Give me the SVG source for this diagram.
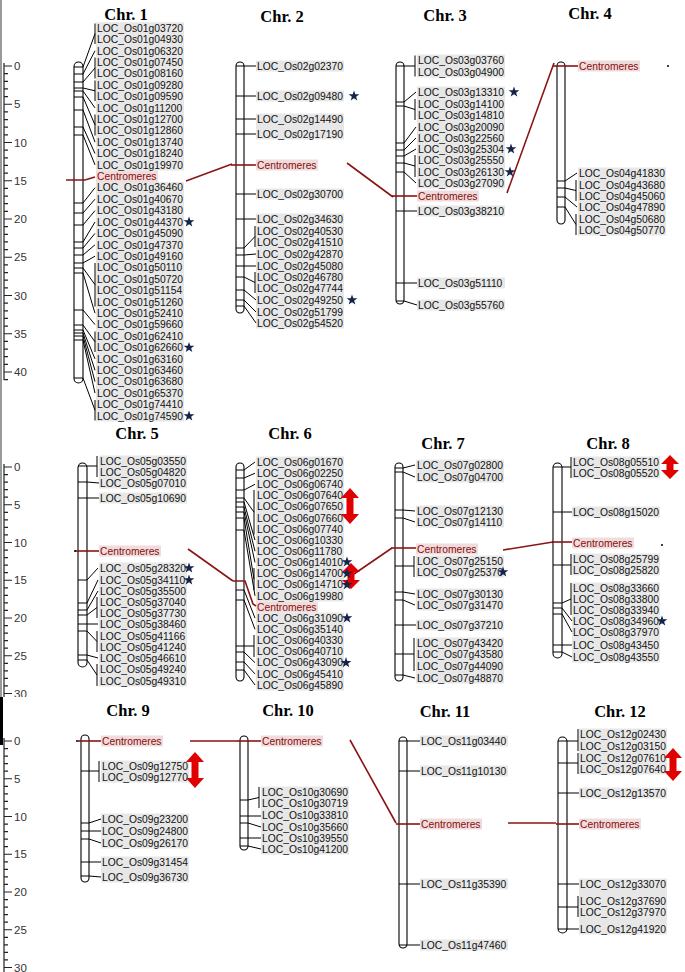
<svg xmlns="http://www.w3.org/2000/svg" width="685" height="972" viewBox="0 0 685 972">
<style>
.chr{fill:#fff;stroke:#000;stroke-width:1.1}
.ln{stroke:#000;stroke-width:1;fill:none}
.bg{fill:#e7e7e7}
.pk{fill:#efdcdc}
.cr{stroke:#8b1515;stroke-width:1.6;fill:none}
.lb text{font-family:"Liberation Sans",Arial,sans-serif;font-size:10.3px;fill:#111}
.lb text.ce{fill:#8b0d0d}
.lb text.ttl{font-family:"Liberation Serif","Times New Roman",serif;font-weight:bold;font-size:16.5px;text-anchor:middle;fill:#000}
.ax{stroke:#222;stroke-width:1.2;fill:none}
.axt{font-family:"Liberation Sans",Arial,sans-serif;font-size:11.5px;fill:#333}
.st{fill:#16244a}
.arw{fill:#e00000}
.dot{fill:#000}
</style>
<defs>
<path id="star" d="M0,-5.6L1.32,-1.81L5.33,-1.73L2.13,0.69L3.29,4.53L0,2.24L-3.29,4.53L-2.13,0.69L-5.33,-1.73L-1.32,-1.81Z"/>
<clipPath id="c2"><rect x="0" y="0" width="685" height="697"/></clipPath>
</defs>
<rect width="685" height="972" fill="#fff"/>
<path d="M1,0V697" stroke="#999" stroke-width="2"/>
<path d="M1.5,697V745" stroke="#000" stroke-width="3"/>

<g id="axis1">
<path class="ax" d="M4,63V380M4,66h8M4,73.65h4M4,81.3h4M4,88.95h4M4,96.6h4M4,104.25h8M4,111.9h4M4,119.55h4M4,127.2h4M4,134.85h4M4,142.5h8M4,150.15h4M4,157.8h4M4,165.45h4M4,173.1h4M4,180.75h8M4,188.4h4M4,196.05h4M4,203.7h4M4,211.35h4M4,219h8M4,226.65h4M4,234.3h4M4,241.95h4M4,249.6h4M4,257.25h8M4,264.9h4M4,272.55h4M4,280.2h4M4,287.85h4M4,295.5h8M4,303.15h4M4,310.8h4M4,318.45h4M4,326.1h4M4,333.75h8M4,341.4h4M4,349.05h4M4,356.7h4M4,364.35h4M4,372h8M4,379.65h4"/>
<text class="axt" x="14" y="70">0</text><text class="axt" x="14" y="108.25">5</text><text class="axt" x="14" y="146.5">10</text><text class="axt" x="14" y="184.75">15</text><text class="axt" x="14" y="223">20</text><text class="axt" x="14" y="261.25">25</text><text class="axt" x="14" y="299.5">30</text><text class="axt" x="14" y="337.75">35</text><text class="axt" x="14" y="376">40</text>
</g>
<g id="axis2" clip-path="url(#c2)">
<path class="ax" d="M4,464V697M4,467h8M4,474.55h4M4,482.1h4M4,489.65h4M4,497.2h4M4,504.75h8M4,512.3h4M4,519.85h4M4,527.4h4M4,534.95h4M4,542.5h8M4,550.05h4M4,557.6h4M4,565.15h4M4,572.7h4M4,580.25h8M4,587.8h4M4,595.35h4M4,602.9h4M4,610.45h4M4,618h8M4,625.55h4M4,633.1h4M4,640.65h4M4,648.2h4M4,655.75h8M4,663.3h4M4,670.85h4M4,678.4h4M4,685.95h4M4,693.5h8"/>
<text class="axt" x="14" y="471">0</text><text class="axt" x="14" y="508.75">5</text><text class="axt" x="14" y="546.5">10</text><text class="axt" x="14" y="584.25">15</text><text class="axt" x="14" y="622">20</text><text class="axt" x="14" y="659.75">25</text><text class="axt" x="14" y="697.5">30</text>
</g>
<g id="axis3">
<path class="ax" d="M4,738V972M4,741h8M4,748.55h4M4,756.1h4M4,763.65h4M4,771.2h4M4,778.75h8M4,786.3h4M4,793.85h4M4,801.4h4M4,808.95h4M4,816.5h8M4,824.05h4M4,831.6h4M4,839.15h4M4,846.7h4M4,854.25h8M4,861.8h4M4,869.35h4M4,876.9h4M4,884.45h4M4,892h8M4,899.55h4M4,907.1h4M4,914.65h4M4,922.2h4M4,929.75h8M4,937.3h4M4,944.85h4M4,952.4h4M4,959.95h4M4,967.5h8"/>
<text class="axt" x="14" y="745">0</text><text class="axt" x="14" y="782.75">5</text><text class="axt" x="14" y="820.5">10</text><text class="axt" x="14" y="858.25">15</text><text class="axt" x="14" y="896">20</text><text class="axt" x="14" y="933.75">25</text><text class="axt" x="14" y="971.5">30</text>
</g>

<g id="links">
<path class="cr" d="M186,181L232,164M347,163L393,197M507,193L554,63M188,549L233,581M354,574L392,548M503,550L553,542M190,741H236M350,740L396,823M508,823H556"/>
</g>

<g id="chr1" class="lb">
<text class="ttl" x="126" y="20">Chr. 1</text>
<path class="bg" d="M96,22.3h88v148.3h-88zM96,182h88v239.6h-88z"/>
<path class="pk" d="M96,170.6h62v11.4h-62z"/>
<rect class="chr" x="74" y="62" width="9" height="321" rx="4.5"/>
<path class="ln" d="M74,67h9M74,74h9M74,82h9M74,88h9M74,91h9M74,97h9M74,110h9M74,127h9M74,135h9M74,203h9M74,213h9M74,225h9M74,242h9M74,248h9M74,255h9M74,263h9M74,268h9M74,273h9M74,310h9M74,325h9M74,330h9M74,333h9M74,336h9M74,340h9M74,378h9M83,67L95,33.7M95,23.5V44M83,74L95,50.8M83,82L95,68M95,57.5V78.5M83,88L95,90.8M95,80.5V101M83,91L95,107.9M83,97L95,125M95,114.5V135.5M83,110L95,142.1M83,127L95,153.5M83,135L95,164.9M83,203L95,187.7M83,213L95,199.2M83,225L95,210.6M83,242L95,222M83,248L95,233.4M83,255L95,244.8M83,263L95,256.2M83,268L95,284.7M95,263V306.5M83,273L95,313.2M83,310L95,324.6M83,325L95,341.8M95,331.5V352M83,330L95,358.9M83,333L95,370.3M83,336L95,381.7M83,340L95,393.1M83,378L95,410.2M95,400V420.5"/>
<path class="cr" d="M66,180H85L95,177"/>
<text x="97" y="31.7">LOC_Os01g03720</text><text x="97" y="43.1">LOC_Os01g04930</text><text x="97" y="54.5">LOC_Os01g06320</text><text x="97" y="65.9">LOC_Os01g07450</text><text x="97" y="77.3">LOC_Os01g08160</text><text x="97" y="88.8">LOC_Os01g09280</text><text x="97" y="100.2">LOC_Os01g09590</text><text x="97" y="111.6">LOC_Os01g11200</text><text x="97" y="123">LOC_Os01g12700</text><text x="97" y="134.4">LOC_Os01g12860</text><text x="97" y="145.8">LOC_Os01g13740</text><text x="97" y="157.2">LOC_Os01g18240</text><text x="97" y="168.6">LOC_Os01g19970</text><text class="ce" x="97" y="180">Centromeres</text><text x="97" y="191.4">LOC_Os01g36460</text><text x="97" y="202.9">LOC_Os01g40670</text><text x="97" y="214.3">LOC_Os01g43180</text><text x="97" y="225.7">LOC_Os01g44370</text><text x="97" y="237.1">LOC_Os01g45090</text><text x="97" y="248.5">LOC_Os01g47370</text><text x="97" y="259.9">LOC_Os01g49160</text><text x="97" y="271.3">LOC_Os01g50110</text><text x="97" y="282.7">LOC_Os01g50720</text><text x="97" y="294.1">LOC_Os01g51154</text><text x="97" y="305.5">LOC_Os01g51260</text><text x="97" y="316.9">LOC_Os01g52410</text><text x="97" y="328.3">LOC_Os01g59660</text><text x="97" y="339.8">LOC_Os01g62410</text><text x="97" y="351.2">LOC_Os01g62660</text><text x="97" y="362.6">LOC_Os01g63160</text><text x="97" y="374">LOC_Os01g63460</text><text x="97" y="385.4">LOC_Os01g63680</text><text x="97" y="396.8">LOC_Os01g65370</text><text x="97" y="408.2">LOC_Os01g74410</text><text x="97" y="419.6">LOC_Os01g74590</text>
<use href="#star" class="st" x="189" y="222"/><use href="#star" class="st" x="189" y="347.5"/><use href="#star" class="st" x="189" y="416"/>
</g>

<g id="chr2" class="lb">
<text class="ttl" x="282" y="22">Chr. 2</text>
<path class="bg" d="M256,60.4h88v11.2h-88zM256,90.4h88v11.2h-88zM256,113.4h88v26.2h-88zM256,188.4h88v11.2h-88zM256,213.4h88v11.2h-88zM256,225.4h88v103.2h-88z"/>
<path class="pk" d="M256,159.4h62v11.2h-62z"/>
<rect class="chr" x="236" y="62" width="8" height="251" rx="4"/>
<path class="ln" d="M236,66h8M236,96h8M236,119h8M236,134h8M236,194h8M236,219h8M236,248h8M236,255h8M236,266h8M236,277h8M236,290h8M236,300h8M236,306h8M244,66H256M244,96H256M244,119H256M244,134H256M244,194H256M244,219H256M244,248L255,236.5M255,226V247M244,255L256,254M244,266H256M244,277L255,282.5M255,272V293M244,290L256,300M244,300L256,312M244,306L256,323"/>
<path class="cr" d="M231,165H256"/>
<text x="257" y="69.7">LOC_Os02g02370</text><text x="257" y="99.7">LOC_Os02g09480</text><text x="257" y="122.7">LOC_Os02g14490</text><text x="257" y="137.7">LOC_Os02g17190</text><text class="ce" x="257" y="168.7">Centromeres</text><text x="257" y="197.7">LOC_Os02g30700</text><text x="257" y="222.7">LOC_Os02g34630</text><text x="257" y="234.7">LOC_Os02g40530</text><text x="257" y="245.7">LOC_Os02g41510</text><text x="257" y="257.7">LOC_Os02g42870</text><text x="257" y="269.7">LOC_Os02g45080</text><text x="257" y="280.7">LOC_Os02g46780</text><text x="257" y="291.7">LOC_Os02g47744</text><text x="257" y="303.7">LOC_Os02g49250</text><text x="257" y="315.7">LOC_Os02g51799</text><text x="257" y="326.7">LOC_Os02g54520</text>
<use href="#star" class="st" x="354" y="96"/><use href="#star" class="st" x="352" y="300"/>
</g>

<g id="chr3" class="lb">
<text class="ttl" x="445" y="21">Chr. 3</text>
<path class="bg" d="M417,54.4h88v23.2h-88zM417,86.4h88v102.2h-88zM417,205.4h88v11.2h-88zM417,277.4h88v11.2h-88zM417,299.4h88v11.2h-88z"/>
<path class="pk" d="M417,190.4h62v11.2h-62z"/>
<rect class="chr" x="396" y="62" width="8" height="242" rx="4"/>
<path class="ln" d="M396,66h8M396,102h8M396,106h8M396,143h8M396,150h8M396,156h8M396,163h8M396,172h8M396,211h8M396,283h8M396,301h8M404,66H415M415,55.5V76.5M404,102L416,92M404,106L415,109.5M415,99V120M404,143L416,127M404,150L416,138M404,156L416,149M404,163L415,166M415,155V177M404,172L416,183M404,211H417M404,283H417M404,301L417,305"/>
<path class="cr" d="M392,196H417"/>
<text x="418" y="63.7">LOC_Os03g03760</text><text x="418" y="75.7">LOC_Os03g04900</text><text x="418" y="95.7">LOC_Os03g13310</text><text x="418" y="107.7">LOC_Os03g14100</text><text x="418" y="118.7">LOC_Os03g14810</text><text x="418" y="130.7">LOC_Os03g20090</text><text x="418" y="141.7">LOC_Os03g22560</text><text x="418" y="152.7">LOC_Os03g25304</text><text x="418" y="163.7">LOC_Os03g25550</text><text x="418" y="175.7">LOC_Os03g26130</text><text x="418" y="186.7">LOC_Os03g27090</text><text class="ce" x="418" y="199.7">Centromeres</text><text x="418" y="214.7">LOC_Os03g38210</text><text x="418" y="286.7">LOC_Os03g51110</text><text x="418" y="308.7">LOC_Os03g55760</text>
<use href="#star" class="st" x="514" y="92"/><use href="#star" class="st" x="511" y="149"/><use href="#star" class="st" x="510" y="172"/>
</g>

<g id="chr4" class="lb">
<text class="ttl" x="590" y="19">Chr. 4</text>
<path class="bg" d="M578,167.4h88v68.2h-88z"/>
<path class="pk" d="M578,60.4h62v11.2h-62z"/>
<rect class="chr" x="557" y="62" width="8" height="162" rx="4"/>
<path class="ln" d="M557,181h8M557,188h8M557,197h8M557,207h8M565,181L577,173M565,188L576,190.5M576,180V201M565,197L577,207M565,207L576,224.5M576,214V235"/>
<path class="cr" d="M553,66H578"/>
<circle class="dot" cx="668" cy="66" r="1"/>
<text class="ce" x="579" y="69.7">Centromeres</text><text x="579" y="176.7">LOC_Os04g41830</text><text x="579" y="188.7">LOC_Os04g43680</text><text x="579" y="199.7">LOC_Os04g45060</text><text x="579" y="210.7">LOC_Os04g47890</text><text x="579" y="222.7">LOC_Os04g50680</text><text x="579" y="233.7">LOC_Os04g50770</text>
</g>

<g id="chr5" class="lb">
<text class="ttl" x="137" y="439">Chr. 5</text>
<path class="bg" d="M99,455.4h88v33.2h-88zM99,492.4h88v11.2h-88zM99,562.4h88v124.2h-88z"/>
<path class="pk" d="M99,545.4h62v11.2h-62z"/>
<rect class="chr" x="78" y="463" width="9" height="204" rx="4.5"/>
<path class="ln" d="M78,466h9M78,482h9M78,498h9M78,580h9M78,603h9M78,610h9M78,615h9M78,624h9M78,631h9M78,655h9M78,660h9M87,466H97M97,456V477M87,482L99,483M87,498H99M87,580L98,568M87,603L98,580M87,610L98,591M87,615L97,607.5M97,597V618M87,624H98M87,631L97,641.5M97,631V652M87,655L98,658M87,660L97,675M97,664V686"/>
<path class="cr" d="M75,551H99"/>
<circle class="dot" cx="75" cy="551" r="1"/>
<text x="100" y="464.7">LOC_Os05g03550</text><text x="100" y="475.7">LOC_Os05g04820</text><text x="100" y="486.7">LOC_Os05g07010</text><text x="100" y="501.7">LOC_Os05g10690</text><text class="ce" x="100" y="554.7">Centromeres</text><text x="100" y="571.7">LOC_Os05g28320</text><text x="100" y="583.7">LOC_Os05g34110</text><text x="100" y="594.7">LOC_Os05g35500</text><text x="100" y="605.7">LOC_Os05g37040</text><text x="100" y="616.7">LOC_Os05g37730</text><text x="100" y="627.7">LOC_Os05g38460</text><text x="100" y="639.7">LOC_Os05g41166</text><text x="100" y="650.7">LOC_Os05g41240</text><text x="100" y="661.7">LOC_Os05g46610</text><text x="100" y="672.7">LOC_Os05g49240</text><text x="100" y="684.7">LOC_Os05g49310</text>
<use href="#star" class="st" x="189" y="568"/><use href="#star" class="st" x="189" y="580"/>
</g>

<g id="chr6" class="lb">
<text class="ttl" x="290" y="439">Chr. 6</text>
<path class="bg" d="M256,456.4h88v145h-88zM256,612.6h88v78h-88z"/>
<path class="pk" d="M256,601.4h62v11.2h-62z"/>
<rect class="chr" x="236" y="463" width="8" height="218" rx="4"/>
<path class="ln" d="M236,470h8M236,478h8M236,490h8M236,498h8M236,502h8M236,507h8M236,512h8M236,518h8M236,530h8M236,590h8M236,600h8M236,646h8M236,652h8M236,662h8M236,670h8M244,470L255,462M244,478L255,473.2M244,490L255,484.3M244,498L254,512.2M254,490V534.5M244,502L255,540.1M244,507L255,551.2M244,512L255,562.4M244,518L254,579.1M254,568V590M244,530L255,595.8M244,590L255,618.1M244,600L255,629.3M244,646H254M254,635V657M244,652L255,662.7M244,662L255,673.9M244,670L255,685"/>
<path class="cr" d="M233,581H245L253,604L256,606"/>
<text x="257" y="465.7">LOC_Os06g01670</text><text x="257" y="476.9">LOC_Os06g02250</text><text x="257" y="488">LOC_Os06g06740</text><text x="257" y="499.2">LOC_Os06g07640</text><text x="257" y="510.3">LOC_Os06g07650</text><text x="257" y="521.5">LOC_Os06g07660</text><text x="257" y="532.6">LOC_Os06g07740</text><text x="257" y="543.8">LOC_Os06g10330</text><text x="257" y="554.9">LOC_Os06g11780</text><text x="257" y="566.1">LOC_Os06g14010</text><text x="257" y="577.2">LOC_Os06g14700</text><text x="257" y="588.4">LOC_Os06g14710</text><text x="257" y="599.5">LOC_Os06g19980</text><text class="ce" x="257" y="610.7">Centromeres</text><text x="257" y="621.8">LOC_Os06g31090</text><text x="257" y="633">LOC_Os06g35140</text><text x="257" y="644.1">LOC_Os06g40330</text><text x="257" y="655.3">LOC_Os06g40710</text><text x="257" y="666.4">LOC_Os06g43090</text><text x="257" y="677.6">LOC_Os06g45410</text><text x="257" y="688.7">LOC_Os06g45890</text>
<polygon class="arw" points="350,488 359,498 353.5,498 353.5,514 359,514 350,524 341,514 346.5,514 346.5,498 341,498"/>
<polygon class="arw" points="351,563 360,572 354.5,572 354.5,580 360,580 351,589 342,580 347.5,580 347.5,572 342,572"/>
<use href="#star" class="st" x="347" y="562"/><use href="#star" class="st" x="347" y="573.5"/><use href="#star" class="st" x="347" y="584.7"/><use href="#star" class="st" x="347" y="618"/><use href="#star" class="st" x="346" y="662.7"/>
</g>

<g id="chr7" class="lb">
<text class="ttl" x="443" y="449">Chr. 7</text>
<path class="bg" d="M416,459.4h88v23.2h-88zM416,505.4h88v22.2h-88zM416,555.4h88v22.2h-88zM416,588.4h88v22.2h-88zM416,619.4h88v11.2h-88zM416,637.4h88v46.2h-88z"/>
<path class="pk" d="M416,543.4h62v11.2h-62z"/>
<rect class="chr" x="395" y="463" width="8" height="218" rx="4"/>
<path class="ln" d="M395,468h8M395,472h8M395,510h8M395,518h8M395,566h8M395,592h8M395,600h8M395,625h8M395,654h8M395,675h8M403,468L415,465M403,472L415,477M403,510L415,511M403,518L415,522M403,566H414M414,556V577M403,592L415,594M403,600L415,605M403,625H416M403,654H414M414,638V671M403,675L415,678"/>
<path class="cr" d="M391,548H416"/>
<text x="417" y="468.7">LOC_Os07g02800</text><text x="417" y="480.7">LOC_Os07g04700</text><text x="417" y="514.7">LOC_Os07g12130</text><text x="417" y="525.7">LOC_Os07g14110</text><text class="ce" x="417" y="552.7">Centromeres</text><text x="417" y="564.7">LOC_Os07g25150</text><text x="417" y="575.7">LOC_Os07g25370</text><text x="417" y="597.7">LOC_Os07g30130</text><text x="417" y="608.7">LOC_Os07g31470</text><text x="417" y="628.7">LOC_Os07g37210</text><text x="417" y="646.7">LOC_Os07g43420</text><text x="417" y="657.7">LOC_Os07g43580</text><text x="417" y="669.7">LOC_Os07g44090</text><text x="417" y="681.7">LOC_Os07g48870</text>
<use href="#star" class="st" x="503" y="572"/>
</g>

<g id="chr8" class="lb">
<text class="ttl" x="608" y="449">Chr. 8</text>
<path class="bg" d="M572,456.4h88v22.2h-88zM572,506.4h88v11.2h-88zM572,553.4h88v22.2h-88zM572,582.4h88v80.2h-88z"/>
<path class="pk" d="M572,537.4h62v11.2h-62z"/>
<rect class="chr" x="553" y="463" width="9" height="195" rx="4.5"/>
<path class="ln" d="M553,467h9M553,512h9M553,565h9M553,603h9M553,608h9M553,614h9M553,645h9M553,652h9M562,467H571M571,457V478M562,512H572M562,565H571M571,554V575M562,603L571,599M571,583V615M562,608L572,621M562,614L572,632M562,645H572M562,652L572,657"/>
<path class="cr" d="M553,542H572"/>
<circle class="dot" cx="662" cy="545" r="1"/>
<text x="573" y="465.7">LOC_Os08g05510</text><text x="573" y="476.7">LOC_Os08g05520</text><text x="573" y="515.7">LOC_Os08g15020</text><text class="ce" x="573" y="546.7">Centromeres</text><text x="573" y="562.7">LOC_Os08g25799</text><text x="573" y="573.7">LOC_Os08g25820</text><text x="573" y="591.7">LOC_Os08g33660</text><text x="573" y="602.7">LOC_Os08g33800</text><text x="573" y="613.7">LOC_Os08g33940</text><text x="573" y="624.7">LOC_Os08g34960</text><text x="573" y="635.7">LOC_Os08g37970</text><text x="573" y="648.7">LOC_Os08g43450</text><text x="573" y="660.7">LOC_Os08g43550</text>
<polygon class="arw" points="670,455 679,464 673.5,464 673.5,470 679,470 670,479 661,470 666.5,470 666.5,464 661,464"/>
<use href="#star" class="st" x="662" y="621"/>
</g>

<g id="chr9" class="lb">
<text class="ttl" x="128" y="716">Chr. 9</text>
<path class="bg" d="M101,760.4h88v22.2h-88zM101,813.4h88v35.2h-88zM101,856.4h88v26.2h-88z"/>
<path class="pk" d="M101,735.4h62v11.2h-62z"/>
<rect class="chr" x="81" y="735" width="8" height="147" rx="4"/>
<path class="ln" d="M81,771h8M81,823h8M81,831h8M81,839h8M81,862h8M81,876h8M89,771H99M99,761V782M89,823L101,819M89,831H101M89,839L101,843M89,862H101M89,876L101,877"/>
<path class="cr" d="M78,741H101"/>
<circle class="dot" cx="77" cy="741" r="1"/>
<text class="ce" x="102" y="744.7">Centromeres</text><text x="102" y="769.7">LOC_Os09g12750</text><text x="102" y="780.7">LOC_Os09g12770</text><text x="102" y="822.7">LOC_Os09g23200</text><text x="102" y="834.7">LOC_Os09g24800</text><text x="102" y="846.7">LOC_Os09g26170</text><text x="102" y="865.7">LOC_Os09g31454</text><text x="102" y="880.7">LOC_Os09g36730</text>
<polygon class="arw" points="195,752 204,762 198.5,762 198.5,778 204,778 195,788 186,778 191.5,778 191.5,762 186,762"/>
</g>

<g id="chr10" class="lb">
<text class="ttl" x="288" y="716">Chr. 10</text>
<path class="bg" d="M261,786.4h88v68.2h-88z"/>
<path class="pk" d="M261,735.4h62v11.2h-62z"/>
<rect class="chr" x="240" y="736" width="8" height="114" rx="4"/>
<path class="ln" d="M240,800h8M240,816h8M240,823h8M240,838h8M240,846h8M248,800L259,797.5M259,787V808M248,816H261M248,823L261,827M248,838H261M248,846L261,849"/>
<path class="cr" d="M236,741H261"/>
<text class="ce" x="262" y="744.7">Centromeres</text><text x="262" y="795.7">LOC_Os10g30690</text><text x="262" y="806.7">LOC_Os10g30719</text><text x="262" y="818.7">LOC_Os10g33810</text><text x="262" y="830.7">LOC_Os10g35660</text><text x="262" y="841.7">LOC_Os10g39550</text><text x="262" y="852.7">LOC_Os10g41200</text>
</g>

<g id="chr11" class="lb">
<text class="ttl" x="445" y="717">Chr. 11</text>
<path class="bg" d="M420,735.4h88v11.2h-88zM420,765.4h88v11.2h-88zM420,878.4h88v11.2h-88zM420,939.4h88v11.2h-88z"/>
<path class="pk" d="M420,818.4h62v11.2h-62z"/>
<rect class="chr" x="399" y="737" width="8" height="211" rx="4"/>
<path class="ln" d="M399,741H420M399,771H420M399,884H420M399,945H420"/>
<path class="cr" d="M396,824H420"/>
<text x="421" y="744.7">LOC_Os11g03440</text><text x="421" y="774.7">LOC_Os11g10130</text><text class="ce" x="421" y="827.7">Centromeres</text><text x="421" y="887.7">LOC_Os11g35390</text><text x="421" y="948.7">LOC_Os11g47460</text>
</g>

<g id="chr12" class="lb">
<text class="ttl" x="620" y="717">Chr. 12</text>
<path class="bg" d="M579,728.4h88v46.2h-88zM579,787.4h88v11.2h-88zM579,878.4h88v56.2h-88z"/>
<path class="pk" d="M579,818.4h62v11.2h-62z"/>
<rect class="chr" x="558" y="737" width="9" height="196" rx="4.5"/>
<path class="ln" d="M558,741H578M578,729V751M558,763H578M578,753V774M558,793H579M558,884H579M558,907H578M578,896V917M558,929H579"/>
<path class="cr" d="M556,824H579"/>
<text x="580" y="737.7">LOC_Os12g02430</text><text x="580" y="749.7">LOC_Os12g03150</text><text x="580" y="761.7">LOC_Os12g07610</text><text x="580" y="772.7">LOC_Os12g07640</text><text x="580" y="796.7">LOC_Os12g13570</text><text class="ce" x="580" y="827.7">Centromeres</text><text x="580" y="887.7">LOC_Os12g33070</text><text x="580" y="904.7">LOC_Os12g37690</text><text x="580" y="915.7">LOC_Os12g37970</text><text x="580" y="932.7">LOC_Os12g41920</text>
<polygon class="arw" points="673,748 682,758 676.5,758 676.5,771 682,771 673,781 664,771 669.5,771 669.5,758 664,758"/>
</g>
</svg>
